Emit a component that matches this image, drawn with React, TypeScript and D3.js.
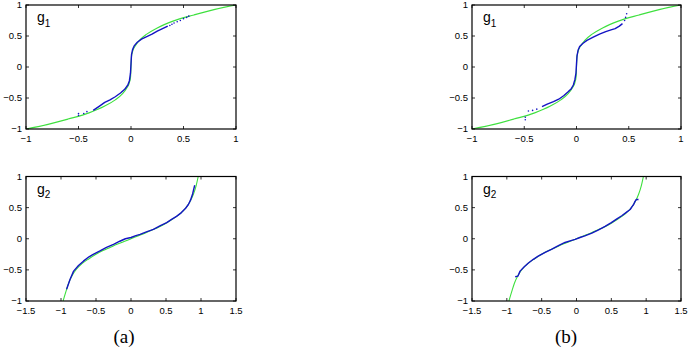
import React from 'react'
import * as d3 from 'd3'

// tick values
const ticksTopX = [-1, -0.5, 0, 0.5, 1]
const ticksBottomX = [-1.5, -1, -0.5, 0, 0.5, 1, 1.5]
const ticksY = [-1, -0.5, 0, 0.5, 1]

// green reference curve, g1
const g1X = [-1, -0.8, -0.6, -0.4, -0.25, -0.15, -0.08, -0.04, -0.015, -0.004, 0, 0.004, 0.015, 0.04, 0.08, 0.15, 0.25, 0.4, 0.6, 0.8, 1]
const g1Y = [-1, -0.93, -0.84, -0.74, -0.63, -0.53, -0.43, -0.34, -0.25, -0.16, 0, 0.16, 0.25, 0.34, 0.43, 0.53, 0.63, 0.74, 0.84, 0.93, 1]

// green reference curve, g2
const g2X = [-0.97, -0.93, -0.89, -0.84, -0.78, -0.7, -0.6, -0.5, -0.4, -0.3, -0.2, -0.1, 0, 0.1, 0.2, 0.3, 0.4, 0.5, 0.6, 0.7, 0.78, 0.84, 0.89, 0.93, 0.96]
const g2Y = [-1, -0.85, -0.71, -0.59, -0.49, -0.4, -0.32, -0.25, -0.19, -0.14, -0.09, -0.045, 0, 0.045, 0.09, 0.14, 0.19, 0.25, 0.32, 0.4, 0.49, 0.59, 0.71, 0.85, 1]

// estimated curves (blue), panel (a)
const a1X = [-0.36, -0.3, -0.25, -0.2, -0.15, -0.1, -0.06, -0.03, -0.015, -0.005, 0, 0.005, 0.015, 0.03, 0.06, 0.1, 0.15, 0.2, 0.25, 0.3, 0.35]
const a1Y = [-0.7, -0.63, -0.57, -0.53, -0.48, -0.42, -0.36, -0.29, -0.22, -0.1, 0.05, 0.2, 0.28, 0.34, 0.4, 0.45, 0.49, 0.53, 0.58, 0.62, 0.66]
const a1DotX = [-0.5, -0.5, -0.45, -0.42, 0.37, 0.39, 0.41, 0.44, 0.47, 0.5, 0.53, 0.55]
const a1DotY = [-0.78, -0.75, -0.75, -0.72, 0.67, 0.69, 0.71, 0.73, 0.75, 0.78, 0.8, 0.82]

const a2X = [-0.92, -0.87, -0.82, -0.75, -0.68, -0.6, -0.54, -0.45, -0.35, -0.25, -0.16, -0.08, 0, 0.07, 0.13, 0.22, 0.32, 0.42, 0.51, 0.58, 0.65, 0.72, 0.78, 0.82, 0.85, 0.88, 0.91]
const a2Y = [-0.81, -0.65, -0.52, -0.43, -0.36, -0.29, -0.25, -0.2, -0.14, -0.09, -0.04, 0, 0.02, 0.05, 0.07, 0.11, 0.15, 0.21, 0.26, 0.31, 0.36, 0.42, 0.49, 0.55, 0.62, 0.72, 0.86]

// estimated curves (blue), panel (b)
const b1X = [-0.33, -0.28, -0.22, -0.17, -0.12, -0.08, -0.05, -0.03, -0.015, -0.005, 0, 0.005, 0.015, 0.03, 0.06, 0.1, 0.16, 0.22, 0.28, 0.33, 0.37, 0.41, 0.44]
const b1Y = [-0.64, -0.6, -0.56, -0.52, -0.46, -0.4, -0.35, -0.29, -0.2, -0.1, 0.05, 0.18, 0.27, 0.33, 0.38, 0.43, 0.48, 0.53, 0.57, 0.6, 0.62, 0.66, 0.7]
const b1DotX = [-0.49, -0.49, -0.46, -0.42, -0.38, 0.46, 0.47, 0.48]
const b1DotY = [-0.85, -0.81, -0.71, -0.7, -0.68, 0.75, 0.8, 0.86]

const b2X = [-0.88, -0.84, -0.81, -0.75, -0.69, -0.62, -0.55, -0.45, -0.36, -0.26, -0.165, -0.08, -0.02, 0.05, 0.12, 0.22, 0.31, 0.41, 0.5, 0.58, 0.65, 0.71, 0.77, 0.8, 0.82, 0.84, 0.86, 0.89]
const b2Y = [-0.61, -0.6, -0.52, -0.45, -0.39, -0.33, -0.28, -0.22, -0.17, -0.11, -0.06, -0.03, -0.01, 0.02, 0.045, 0.09, 0.14, 0.2, 0.26, 0.32, 0.37, 0.42, 0.47, 0.52, 0.55, 0.6, 0.63, 0.63]

const GREEN = '#3ee03e'
const BLUE = '#1414c4'
const FONT = '"Liberation Sans", Arial, Helvetica, sans-serif'

const zip = (xs: number[], ys: number[]) => xs.map((x, i) => [x, ys[i]] as [number, number])
const fmt = (v: number) => (v === 0 ? '0' : String(v).replace('-', '\u2212'))

type PanelProps = {
  left: number
  top: number
  width: number
  height: number
  xDomain: [number, number]
  xTicks: number[]
  sub: string
  green: [number, number][]
  blue: [number, number][]
  dots?: [number, number][]
}

function Panel({ left, top, width, height, xDomain, xTicks, sub, green, blue, dots = [] }: PanelProps) {
  const x = d3.scaleLinear().domain(xDomain).range([left, left + width])
  const y = d3.scaleLinear().domain([-1, 1]).range([top + height, top])
  const line = d3.line<[number, number]>().x(d => x(d[0])).y(d => y(d[1]))
  const tl = 3
  return (
    <g>
      <clipPath id={'clip' + left + top}>
        <rect x={left} y={top} width={width} height={height} />
      </clipPath>
      <g clipPath={`url(#clip${left}${top})`}>
        <path d={line.curve(d3.curveMonotoneX)(green) || ''} fill="none" stroke={GREEN} strokeWidth={1.1} />
        <path d={line.curve(d3.curveLinear)(blue) || ''} fill="none" stroke={BLUE} strokeWidth={1.4} strokeLinejoin="round" />
        {dots.map((d, i) => (
          <circle key={i} cx={x(d[0])} cy={y(d[1])} r={0.8} fill={BLUE} />
        ))}
      </g>
      {xTicks.map(t => (
        <g key={'x' + t}>
          <line x1={x(t)} x2={x(t)} y1={top + height} y2={top + height - tl} stroke="#000" strokeWidth={0.8} />
          <line x1={x(t)} x2={x(t)} y1={top} y2={top + tl} stroke="#000" strokeWidth={0.8} />
          <text x={x(t)} y={top + height + 13} textAnchor="middle" fontSize={9.5} fontFamily={FONT}>
            {fmt(t)}
          </text>
        </g>
      ))}
      {ticksY.map(t => (
        <g key={'y' + t}>
          <line x1={left} x2={left + tl} y1={y(t)} y2={y(t)} stroke="#000" strokeWidth={0.8} />
          <line x1={left + width} x2={left + width - tl} y1={y(t)} y2={y(t)} stroke="#000" strokeWidth={0.8} />
          <text x={left - 4} y={y(t) + 3.4} textAnchor="end" fontSize={9.5} fontFamily={FONT}>
            {fmt(t)}
          </text>
        </g>
      ))}
      <rect x={left} y={top} width={width} height={height} fill="none" stroke="#000" strokeWidth={1.2} />
      <text x={left + 11} y={top + 17} fontSize={14} fontFamily={FONT}>
        g
        <tspan fontSize={10} dy={4.5}>
          {sub}
        </tspan>
      </text>
    </g>
  )
}

export default function App() {
  return (
    <svg
      width={688}
      height={358}
      style={{ position: 'absolute', left: 0, top: 0, background: '#fff' }}
    >
      <Panel left={26} top={5} width={210} height={124} xDomain={[-1, 1]} xTicks={ticksTopX} sub="1"
        green={zip(g1X, g1Y)} blue={zip(a1X, a1Y)} dots={zip(a1DotX, a1DotY)} />
      <Panel left={472} top={5} width={209} height={124} xDomain={[-1, 1]} xTicks={ticksTopX} sub="1"
        green={zip(g1X, g1Y)} blue={zip(b1X, b1Y)} dots={zip(b1DotX, b1DotY)} />
      <Panel left={26} top={176.5} width={210} height={124.5} xDomain={[-1.5, 1.5]} xTicks={ticksBottomX} sub="2"
        green={zip(g2X, g2Y)} blue={zip(a2X, a2Y)} />
      <Panel left={472} top={176.5} width={209} height={124.5} xDomain={[-1.5, 1.5]} xTicks={ticksBottomX} sub="2"
        green={zip(g2X, g2Y)} blue={zip(b2X, b2Y)} />
      <text x={124} y={343} textAnchor="middle" fontSize={19} fontFamily='"Liberation Serif", "Times New Roman", serif'>
        (a)
      </text>
      <text x={566} y={343} textAnchor="middle" fontSize={19} fontFamily='"Liberation Serif", "Times New Roman", serif'>
        (b)
      </text>
    </svg>
  )
}
